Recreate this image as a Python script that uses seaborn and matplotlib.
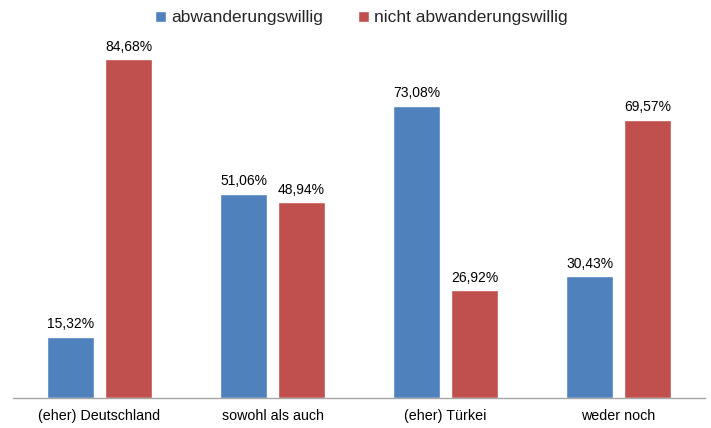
import pandas as pd
import matplotlib.pyplot as plt
import seaborn as sns

categories = ["(eher) Deutschland", "sowohl als auch", "(eher) Türkei", "weder noch"]
series = ["abwanderungswillig", "nicht abwanderungswillig"]
willig = [15.32, 51.06, 73.08, 30.43]
nicht_willig = [84.68, 48.94, 26.92, 69.57]

df = pd.DataFrame({
    "Kategorie": categories * 2,
    "Gruppe": [series[0]] * 4 + [series[1]] * 4,
    "Wert": willig + nicht_willig,
})

sns.set_theme(style="white")
plt.rcParams['font.family'] = ['Liberation Sans', 'DejaVu Sans']

fig = plt.figure(figsize=(7.11, 4.28), dpi=100)
ax = fig.add_axes([13 / 711, 30 / 428, 692 / 711, 400 / 428])

palette = {series[0]: "#4F81BD", series[1]: "#C0504D"}
sns.barplot(data=df, x="Kategorie", y="Wert", hue="Gruppe", order=categories,
            hue_order=series, palette=palette, width=0.67, gap=0.2,
            saturation=1, ax=ax, legend=True)

for cont in ax.containers:
    ax.bar_label(cont, labels=[f"{v:.2f}".replace(".", ",") + "%" for v in cont.datavalues],
                 padding=4, fontsize=10, color="black")

ax.set_ylim(0, 100)
ax.set_xlim(-0.5, 3.5)
ax.set_xlabel("")
ax.set_ylabel("")
ax.set_yticks([])
ax.tick_params(axis="x", length=0, pad=8, labelsize=10.3, colors="black")
for side in ["top", "left", "right"]:
    ax.spines[side].set_visible(False)
ax.spines["bottom"].set_color("#A6A6A6")
ax.spines["bottom"].set_linewidth(1.0)

handles, labels = ax.get_legend_handles_labels()
ax.get_legend().remove()
fig.legend(handles, labels, loc="upper center", bbox_to_anchor=(0.508, 1.0), ncol=2,
           frameon=False, fontsize=12.5, handlelength=0.65, handleheight=0.65,
           handletextpad=0.3, columnspacing=2.0, borderaxespad=0.2)

fig.savefig("out.png", dpi=100)
